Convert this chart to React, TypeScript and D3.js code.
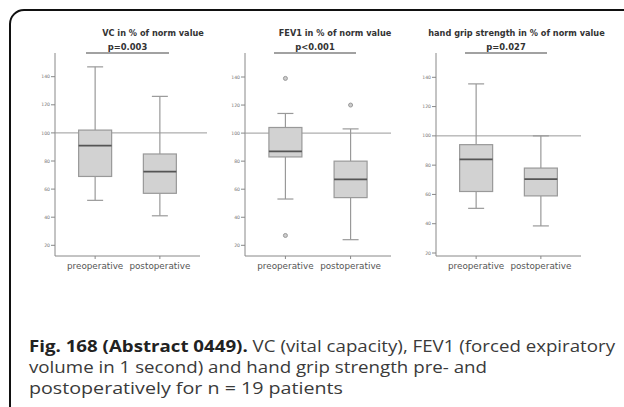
import React from "react";
import * as d3 from "d3";

const categories = ["preoperative", "postoperative"];
const yTicks = [20, 40, 60, 80, 100, 120, 140];
const referenceValue = 100;

const titles = ["VC in % of norm value", "FEV1 in % of norm value", "hand grip strength in % of norm value"];
const pValues = ["p=0.003", "p<0.001", "p=0.027"];

// [min whisker, Q1, median, Q3, max whisker]
const vcPre = [52, 69, 91, 102, 147];
const vcPost = [41, 57, 72.5, 85, 126];
const fevPre = [53, 83, 87, 104, 114];
const fevPost = [24, 54, 67, 80, 103];
const gripPre = [50.5, 62, 84, 94, 135.5];
const gripPost = [38.5, 59, 70.5, 78, 100];

const vcOutliers = [[], []];
const fevOutliers = [[139, 27], [120]];
const gripOutliers = [[], []];

const captionBold = "Fig. 168 (Abstract 0449).";
const captionLines = [
  " VC (vital capacity), FEV1 (forced expiratory",
  "volume in 1 second) and hand grip strength pre- and",
  "postoperatively for n = 19 patients",
];

const panels = [
  { stats: [vcPre, vcPost], outliers: vcOutliers, x0: 55, x1: 200, refEnd: 207, y20: 245.3, y140: 76.7, titleX: 153, pLine: [86, 169] },
  { stats: [fevPre, fevPost], outliers: fevOutliers, x0: 245, x1: 391, refEnd: 391, y20: 245.3, y140: 77, titleX: 335, pLine: [274, 356] },
  { stats: [gripPre, gripPost], outliers: gripOutliers, x0: 436, x1: 581, refEnd: 581, y20: 253, y140: 77.3, titleX: 516.5, pLine: [465, 547] },
];

const axisTop = 53;
const axisBottom = 256;
const font = "'DejaVu Sans', Verdana, sans-serif";

function Panel({ p, i }: { p: any; i: number }) {
  const y = d3.scaleLinear().domain([20, 140]).range([p.y20, p.y140]);
  const x = d3.scalePoint().domain(categories).range([p.x0, p.x1]).padding(0.62);
  const boxW = 33;
  const capW = 16;
  const pMid = (p.pLine[0] + p.pLine[1]) / 2;
  return (
    <g>
      <text x={p.titleX} y={36} textAnchor="middle" fontFamily={font} fontWeight="bold" fontSize={8.2} fill="#333">
        {titles[i]}
      </text>
      <text x={pMid} y={50} textAnchor="middle" fontFamily={font} fontWeight="bold" fontSize={8.4} fill="#333">
        {pValues[i]}
      </text>
      <line x1={p.pLine[0]} x2={p.pLine[1]} y1={53} y2={53} stroke="#444" strokeWidth={1.2} />
      <line x1={p.x0} x2={p.x0} y1={axisTop} y2={axisBottom} stroke="#888" strokeWidth={1} />
      <line x1={p.x0} x2={p.x1} y1={axisBottom} y2={axisBottom} stroke="#888" strokeWidth={1} />
      {yTicks.map((t) => (
        <g key={t}>
          <line x1={p.x0 - 4} x2={p.x0} y1={y(t)} y2={y(t)} stroke="#888" />
          <text x={p.x0 - 5} y={y(t)} dy="0.35em" textAnchor="end" fontFamily={font} fontSize={4.6} fill="#777">
            {t}
          </text>
        </g>
      ))}
      {categories.map((c) => (
        <g key={c}>
          <line x1={x(c)} x2={x(c)} y1={axisBottom} y2={axisBottom + 3} stroke="#888" />
          <text x={x(c)} y={268.5} textAnchor="middle" fontFamily={font} fontSize={8.8} fill="#555">
            {c}
          </text>
        </g>
      ))}
      <line x1={p.x0} x2={p.refEnd} y1={y(referenceValue)} y2={y(referenceValue)} stroke="#999" strokeWidth={1} />
      {categories.map((c, k) => {
        const s = p.stats[k];
        const cx = x(c) as number;
        return (
          <g key={c}>
            <line x1={cx} x2={cx} y1={y(s[0])} y2={y(s[1])} stroke="#999" strokeWidth={1.2} />
            <line x1={cx} x2={cx} y1={y(s[3])} y2={y(s[4])} stroke="#999" strokeWidth={1.2} />
            <line x1={cx - capW / 2} x2={cx + capW / 2} y1={y(s[0])} y2={y(s[0])} stroke="#999" strokeWidth={1.2} />
            <line x1={cx - capW / 2} x2={cx + capW / 2} y1={y(s[4])} y2={y(s[4])} stroke="#999" strokeWidth={1.2} />
            <rect x={cx - boxW / 2} y={y(s[3])} width={boxW} height={y(s[1]) - y(s[3])} fill="#d2d2d2" stroke="#999" strokeWidth={1.2} />
            <line x1={cx - boxW / 2} x2={cx + boxW / 2} y1={y(s[2])} y2={y(s[2])} stroke="#555" strokeWidth={1.8} />
            {p.outliers[k].map((o: number, j: number) => (
              <circle key={j} cx={cx} cy={y(o)} r={2} fill="#ccc" stroke="#999" strokeWidth={1} />
            ))}
          </g>
        );
      })}
    </g>
  );
}

export default function App() {
  const capFont = "'Open Sans', 'Noto Sans', sans-serif";
  return (
    <svg width={624} height={407} style={{ position: "absolute", left: 0, top: 0, background: "#fff" }}>
      <rect width={624} height={407} fill="#fff" />
      <path d="M10,407 L10,24 A14,14 0 0 1 24,10 L624,10" fill="none" stroke="#111" strokeWidth={2} />
      {panels.map((p, i) => (
        <Panel key={i} p={p} i={i} />
      ))}
      <g fontFamily={capFont} fontSize={15.5} fill="#3a3a3a">
        <text x={29} y={352} textLength={586} lengthAdjust="spacingAndGlyphs">
          <tspan fontWeight="bold" fill="#222">{captionBold}</tspan>
          <tspan>{captionLines[0]}</tspan>
        </text>
        <text x={29} y={373} textLength={458} lengthAdjust="spacingAndGlyphs">{captionLines[1]}</text>
        <text x={29} y={394} textLength={314} lengthAdjust="spacingAndGlyphs">{captionLines[2]}</text>
      </g>
    </svg>
  );
}
